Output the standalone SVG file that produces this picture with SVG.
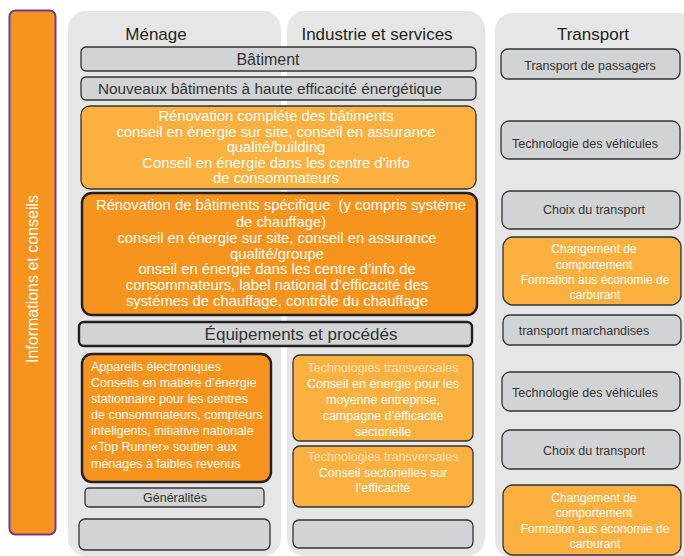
<svg xmlns="http://www.w3.org/2000/svg" width="684" height="556" viewBox="0 0 684 556">
<style>
text{font-family:"Liberation Sans",Arial,sans-serif}
.col{fill:#e6e6e6}
.g{fill:#d1d3d4;stroke:#333;stroke-width:1.3}
.lo{fill:#fbb040;stroke:#333;stroke-width:1.3}
.do{fill:#f7941d;stroke:#231f20;stroke-width:2.4}
.hd{font-size:17px;fill:#231f20;text-anchor:middle}
.gt{fill:#333;text-anchor:middle}
.wt{fill:#fff;text-anchor:middle}
.wl{fill:#fff}
.pale{fill:#fde2bd}
</style>
<g id="columns">
<rect class="col" x="68" y="11" width="213" height="545" rx="18"/>
<rect class="col" x="287" y="11" width="198" height="545" rx="18"/>
<rect class="col" x="495" y="13" width="200" height="545" rx="18"/>
<text class="hd" x="156" y="40">Ménage</text>
<text class="hd" x="377" y="40">Industrie et services</text>
<text class="hd" x="593" y="40">Transport</text>
</g>
<g id="info">
<rect x="9.5" y="10.5" width="46" height="524" rx="6" fill="#f7941d" stroke="#6a3d9a" stroke-width="2"/>
<text class="wt" font-size="16" transform="translate(38,279) rotate(-90)">Informations et conseils</text>
</g>
<g id="batiment">
<rect class="g" x="81" y="47" width="395" height="24" rx="5"/>
<text class="gt" x="268" y="65" font-size="16">Bâtiment</text>
</g>
<g id="nouveaux">
<rect class="g" x="81" y="77" width="395" height="23" rx="5"/>
<text class="gt" x="270" y="94" font-size="15.3">Nouveaux bâtiments à haute efficacité énergétique</text>
</g>
<g id="renov-complete">
<rect class="lo" x="81" y="106" width="395" height="83" rx="9"/>
<text class="wt" font-size="14.8"><tspan x="276" y="121">Rénovation compléte des bâtiments</tspan><tspan x="276" y="136.5">conseil en énergie sur site, conseil en assurance</tspan><tspan x="276" y="152">qualité/building</tspan><tspan x="276" y="167.5">Conseil en énergie dans les centre d’info</tspan><tspan x="276" y="183">de consommateurs</tspan></text>
</g>
<g id="renov-specifique">
<rect class="do" x="82" y="193" width="395" height="122" rx="10"/>
<text class="wt" font-size="14.8"><tspan x="281" y="210">Rénovation de bâtiments spécifique &#160;(y compris systéme</tspan><tspan x="281" y="227">de chauffage)</tspan><tspan x="277" y="243">conseil en énergie sur site, conseil en assurance</tspan><tspan x="277" y="258.5">qualité/groupe</tspan><tspan x="277" y="274">onseil en énergie dans les centre d’info de</tspan><tspan x="277" y="290">consommateurs, label national d’efficacité des</tspan><tspan x="277" y="306">systémes de chauffage, contrôle du chauffage</tspan></text>
</g>
<g id="equipements">
<rect x="79" y="322" width="393" height="24" rx="5" fill="#d1d3d4" stroke="#231f20" stroke-width="2.4"/>
<text class="gt" x="301" y="340" font-size="17">Équipements et procédés</text>
</g>
<g id="appareils">
<rect class="do" x="82" y="354" width="189" height="128" rx="10"/>
<text class="wl" font-size="12.5"><tspan x="91" y="371">Appareils électroniques</tspan><tspan x="91" y="387">Conseils en matiére d’énergie</tspan><tspan x="91" y="403">stationnaire pour les centres</tspan><tspan x="91" y="419">de consommateurs, compteurs</tspan><tspan x="91" y="435">inteligents, initiative nationale</tspan><tspan x="91" y="451">«Top Runner» soutien aux</tspan><tspan x="91" y="468">ménages à faibles revenus</tspan></text>
</g>
<g id="generalites">
<rect class="g" x="85" y="488" width="179" height="19" rx="4"/>
<text class="gt" x="175" y="501.5" font-size="12.5">Généralités</text>
</g>
<g id="empty-menage">
<rect class="g" x="79" y="519" width="191" height="31" rx="6"/>
</g>
<g id="tech-trans-1">
<rect class="lo" x="293" y="355" width="180" height="86" rx="7"/>
<text class="wt" font-size="12.5"><tspan class="pale" x="383" y="372">Technologies transversales</tspan><tspan x="383" y="388">Conseil en énergie pour les</tspan><tspan x="383" y="404">moyenne entreprise,</tspan><tspan x="383" y="420">campagne d’éfficacité</tspan><tspan x="383" y="435.5">sectorielle</tspan></text>
</g>
<g id="tech-trans-2">
<rect class="lo" x="293" y="446" width="180" height="61" rx="7"/>
<text class="wt" font-size="12.5"><tspan class="pale" x="383" y="460.5">Technologies transversales</tspan><tspan x="383" y="477">Conseil sectorielles sur</tspan><tspan x="383" y="492">l’efficacité</tspan></text>
</g>
<g id="empty-industrie">
<rect class="g" x="293" y="520" width="180" height="28" rx="6"/>
</g>
<g id="transport-passagers">
<rect class="g" x="501" y="49" width="179" height="30" rx="7"/>
<text class="gt" x="590" y="69.5" font-size="12.5">Transport de passagers</text>
</g>
<g id="tech-vehicules-1">
<rect class="g" x="501" y="121" width="179" height="38" rx="8"/>
<text class="gt" x="585" y="147.5" font-size="12.5">Technologie des véhicules</text>
</g>
<g id="choix-1">
<rect class="g" x="502" y="191" width="178" height="38" rx="8"/>
<text class="gt" x="594" y="214" font-size="12.5">Choix du transport</text>
</g>
<g id="changement-1">
<rect class="lo" x="503" y="237" width="178" height="68" rx="10"/>
<text class="wt" font-size="12"><tspan x="594" y="253">Changement de</tspan><tspan x="594" y="268.5">comportement</tspan><tspan x="595" y="284">Formation aus économie de</tspan><tspan x="595" y="299">carburant</tspan></text>
</g>
<g id="marchandises">
<rect class="g" x="503" y="315" width="178" height="30" rx="7"/>
<text class="gt" x="584" y="334.5" font-size="12.5">transport marchandises</text>
</g>
<g id="tech-vehicules-2">
<rect class="g" x="502" y="372" width="178" height="39" rx="8"/>
<text class="gt" x="585" y="397" font-size="12.5">Technologie des véhicules</text>
</g>
<g id="choix-2">
<rect class="g" x="502" y="430" width="178" height="39" rx="8"/>
<text class="gt" x="594" y="455" font-size="12.5">Choix du transport</text>
</g>
<g id="changement-2">
<rect class="lo" x="503" y="485" width="178" height="70" rx="10"/>
<text class="wt" font-size="12"><tspan x="594" y="502">Changement de</tspan><tspan x="594" y="517">comportement</tspan><tspan x="595" y="533">Formation aus économie de</tspan><tspan x="595" y="548">carburant</tspan></text>
</g>
<g id="connectors"/>
</svg>
